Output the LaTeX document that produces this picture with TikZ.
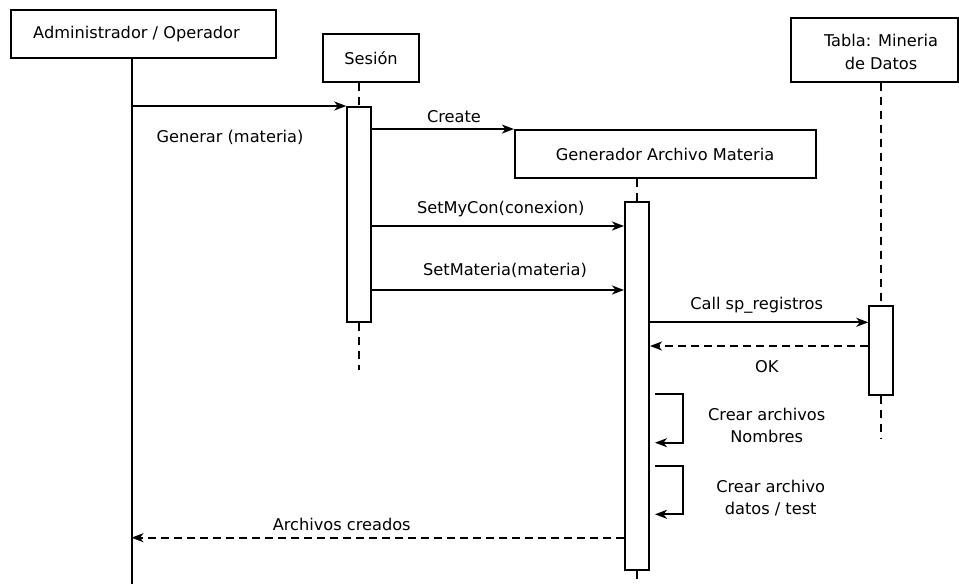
\documentclass[tikz,border=0pt]{standalone}
\usepackage{fontspec}
\setmainfont{DejaVu Sans}
\usetikzlibrary{arrows.meta}
\begin{document}
\begin{tikzpicture}[x=1pt,y=-1pt,
  every node/.style={font=\fontsize{16.2}{22.5}\selectfont},
  obj/.style={draw,line width=2pt,inner sep=0pt},
  act/.style={draw,fill=white,line width=2pt,inner sep=0pt,minimum width=24pt},
  txt/.style={inner sep=0pt,align=center},
  msg/.style={line width=1.8pt,-{Stealth[length=12pt,width=9pt,inset=3.5pt]}},
  ret/.style={msg,dash pattern=on 8pt off 5pt},
  life/.style={line width=1.8pt,dash pattern=on 8pt off 6pt}]
\useasboundingbox (0,0) rectangle (959,584);
% objects
\node[obj,minimum width=264.7pt,minimum height=47.7pt] (adm) at (143.3,33.8) {};
\node[txt] (admt) at (136.5,34) {Administrador / Operador};
\node[obj,minimum width=96.3pt,minimum height=47.7pt] (ses) at (371.2,57.8) {};
\node[txt] (sest) at (371,58) {Sesión};
\node[obj,minimum width=300.7pt,minimum height=48.3pt] (gen) at (665.3,154.2) {};
\node[txt] (gent) at (665,154) {Generador Archivo Materia};
\node[obj,minimum width=167pt,minimum height=63.4pt] (tab) at (874.5,50) {};
\node[txt] (tabt) at (881,52) {Tabla: Mineria\\de Datos};
% lifeline coordinates
\coordinate (admL) at (131.5,0);
\coordinate (bot) at (0,584);
\coordinate (sesEnd) at (359.25,370);
\coordinate (tabEnd) at (881.3,438);
% lifelines
\draw[line width=2pt] (adm.south -| admL) -- (admL |- bot);
\node[act,minimum height=215pt] (ses1) at (359.25,214.5) {};
\node[act,minimum height=368pt] (gen1) at (637,386.2) {};
\node[act,minimum height=89pt] (tab1) at (881.3,350.1) {};
\draw[life] (ses.south -| ses1) -- (ses1.north);
\draw[life] (ses1.south) -- (sesEnd);
\draw[life] (gen.south -| gen1) -- (gen1.north);
\draw[life] (gen1.south) -- (gen1.south |- bot);
\draw[life] (tab.south -| tab1) -- (tab1.north);
\draw[life] (tab1.south) -- (tabEnd);
% message coordinates
\coordinate (m3) at (0,226);
\coordinate (m4) at (0,290);
\coordinate (m5) at (0,322.3);
\coordinate (m6) at (0,346);
\coordinate (m7) at (0,537.7);
\coordinate (s1a) at (655,394);
\coordinate (s1b) at (655,442.7);
\coordinate (s2a) at (655,466);
\coordinate (s2b) at (655,514.3);
% messages
\draw[msg] (admL |- ses1.north) -- (ses1.north west);
\node[txt] (l1) at (230,137) {Generar (materia)};
\draw[msg] (ses1.east |- gen.north) -- (gen.north west);
\node[txt] (l2) at (454,116.7) {Create};
\draw[msg] (ses1.east |- m3) -- (gen1.west |- m3);
\node[txt] (l3) at (500.7,209) {SetMyCon(conexion)};
\draw[msg] (ses1.east |- m4) -- (gen1.west |- m4);
\node[txt] (l4) at (505,270.7) {SetMateria(materia)};
\draw[msg] (gen1.east |- m5) -- (tab1.west |- m5);
\node[txt] (l5) at (756.7,305) {Call sp\_registros};
\draw[ret] (tab1.west |- m6) -- (gen1.east |- m6);
\node[txt] (l6) at (766.7,367) {OK};
\draw[msg] (s1a) -- ++(28.3,0) |- (s1b);
\node[txt] (l7) at (766.7,425.5) {Crear archivos\\Nombres};
\draw[msg] (s2a) -- ++(28.3,0) |- (s2b);
\node[txt] (l8) at (770.7,498) {Crear archivo\\datos / test};
\draw[ret] (gen1.west |- m7) -- (admL |- m7);
\node[txt] (l9) at (341.7,524.3) {Archivos creados};
\end{tikzpicture}
\end{document}
